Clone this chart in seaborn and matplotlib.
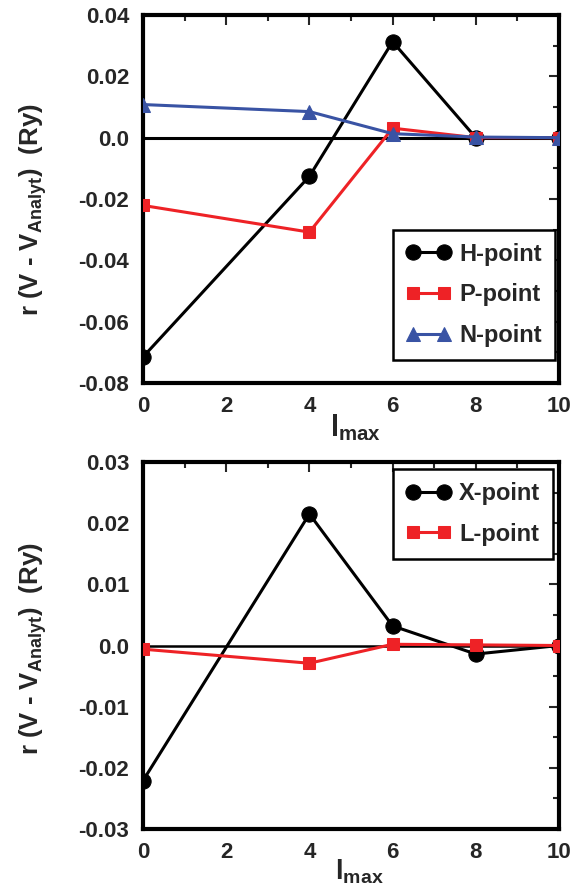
import numpy as np
import pandas as pd
import matplotlib
matplotlib.use("Agg")
import matplotlib.pyplot as plt
import seaborn as sns
from matplotlib.ticker import MultipleLocator

# Data
lmax = [0, 4, 6, 8, 10]
h_point = [-0.0715, -0.0126, 0.0313, 0.0, 0.0]
p_point = [-0.0221, -0.0308, 0.0031, 0.0, 0.0]
n_point = [0.0108, 0.0085, 0.0013, 0.0002, 0.0]
x_point = [-0.0221, 0.0215, 0.0032, -0.0014, 0.0]
l_point = [-0.0006, -0.0029, 0.0002, 0.0001, 0.0]

sns.set_style("white")
plt.rcParams['font.family'] = ['Liberation Sans', 'DejaVu Sans']
plt.rcParams['font.weight'] = 'bold'
plt.rcParams['axes.labelweight'] = 'bold'
plt.rcParams['mathtext.fontset'] = 'custom'
plt.rcParams['mathtext.rm'] = 'Liberation Sans:bold'
plt.rcParams['mathtext.bf'] = 'Liberation Sans:bold'
plt.rcParams['mathtext.it'] = 'Liberation Sans:bold'

RED = '#ee2226'
BLUE = '#3953a4'

fig = plt.figure(figsize=(5.83, 8.88), dpi=100)
ax1 = fig.add_axes([143 / 583, 1 - 383 / 888, 416 / 583, 368 / 888])
ax2 = fig.add_axes([143 / 583, 1 - 829 / 888, 416 / 583, 367 / 888])

top = pd.DataFrame({'lmax': lmax, 'H': h_point, 'P': p_point, 'N': n_point})
bot = pd.DataFrame({'lmax': lmax, 'X': x_point, 'L': l_point})

ax1.axhline(0, color='black', lw=2.2, zorder=1)
ax2.axhline(0, color='black', lw=1.8, zorder=1)

LW = 2.2
sns.lineplot(data=top, x='lmax', y='H', ax=ax1, color='black', marker='o',
             markersize=11, markeredgecolor='black', lw=LW, label='H-point', zorder=3)
sns.lineplot(data=top, x='lmax', y='P', ax=ax1, color=RED, marker='s',
             markersize=9, markeredgecolor=RED, lw=LW, label='P-point', zorder=4)
sns.lineplot(data=top, x='lmax', y='N', ax=ax1, color=BLUE, marker='^',
             markersize=10, markeredgecolor=BLUE, lw=LW, label='N-point', zorder=5)

sns.lineplot(data=bot, x='lmax', y='X', ax=ax2, color='black', marker='o',
             markersize=11, markeredgecolor='black', lw=LW, label='X-point', zorder=3)
sns.lineplot(data=bot, x='lmax', y='L', ax=ax2, color=RED, marker='s',
             markersize=9, markeredgecolor=RED, lw=LW, label='L-point', zorder=4)

ylabel = r'r (V - V$_{\mathrm{Analyt}}$)  (Ry)'
fmt = plt.FuncFormatter(lambda v, p: '0.0' if abs(v) < 1e-9 else f'{v:.2f}')
for ax, ylim, ymaj, ymin_ in [(ax1, (-0.08, 0.04), 0.02, 0.01),
                              (ax2, (-0.03, 0.03), 0.01, 0.005)]:
    ax.set_xlim(0, 10)
    ax.set_ylim(*ylim)
    ax.xaxis.set_major_locator(MultipleLocator(2))
    ax.xaxis.set_minor_locator(MultipleLocator(1))
    ax.yaxis.set_major_locator(MultipleLocator(ymaj))
    ax.yaxis.set_minor_locator(MultipleLocator(ymin_))
    ax.yaxis.set_major_formatter(fmt)
    ax.tick_params(which='both', direction='in', top=True, right=True,
                   labelsize=16, width=1.5)
    ax.tick_params(axis='y', pad=10)
    ax.tick_params(axis='x', pad=9)
    ax.tick_params(which='major', length=7)
    ax.tick_params(which='minor', length=4)
    for s in ax.spines.values():
        s.set_linewidth(3)
        s.set_color('black')
    for t in ax.get_xticklabels() + ax.get_yticklabels():
        t.set_fontweight('bold')
    ax.set_ylabel(ylabel, fontsize=18.5)

ax1.set_xlabel(r'l$_{\mathrm{max}}$', fontsize=21)
ax2.set_xlabel(r'l$_{\mathrm{max}}$', fontsize=20)

# label positions (axes coords)
ax1.xaxis.set_label_coords(0.51, -0.08)
ax2.xaxis.set_label_coords(0.52, -0.078)
ax1.yaxis.set_label_coords(-0.225, 0.47)
ax2.yaxis.set_label_coords(-0.225, 0.49)

leg_kw = dict(frameon=True, fancybox=False, edgecolor='black', fontsize=17,
              handlelength=1.9, borderpad=0.55, labelspacing=0.75,
              handletextpad=0.35, numpoints=2, borderaxespad=0)
lg1 = ax1.legend(loc='lower right', bbox_to_anchor=(0.99, 0.0625), **leg_kw)
lg2 = ax2.legend(loc='upper right', bbox_to_anchor=(0.986, 0.981), **leg_kw)
for lg in (lg1, lg2):
    lg.get_frame().set_linewidth(1.8)
    lg.get_frame().set_alpha(1)
    for t in lg.get_texts():
        t.set_fontweight('bold')

fig.savefig('out.png', dpi=100)
